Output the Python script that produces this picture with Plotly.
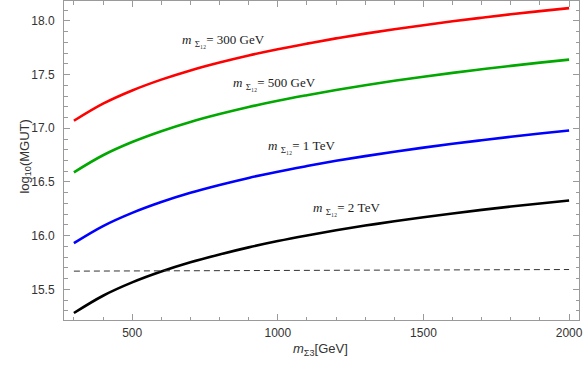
import plotly.graph_objects as go

# m_Sigma3 values (GeV)
m3 = [300, 400, 500, 600, 700, 800, 900, 1000, 1100, 1200, 1300, 1400,
      1500, 1600, 1700, 1800, 1900, 2000]

# log10(MGUT) for each m_Sigma12
gut_300gev = [17.070, 17.229, 17.352, 17.453, 17.539, 17.612, 17.678, 17.736, 17.788,
              17.837, 17.881, 17.922, 17.960, 17.996, 18.029, 18.061, 18.091, 18.119]
gut_500gev = [16.590, 16.749, 16.872, 16.973, 17.059, 17.132, 17.198, 17.256, 17.308,
              17.357, 17.401, 17.442, 17.480, 17.516, 17.549, 17.581, 17.611, 17.639]
gut_1tev = [15.930, 16.089, 16.212, 16.313, 16.399, 16.472, 16.538, 16.596, 16.648,
            16.697, 16.741, 16.782, 16.820, 16.856, 16.889, 16.921, 16.951, 16.979]
gut_2tev = [15.280, 15.441, 15.565, 15.666, 15.752, 15.825, 15.891, 15.950, 16.002,
            16.050, 16.094, 16.134, 16.172, 16.207, 16.240, 16.271, 16.300, 16.328]

# dashed reference line
ref_x = [300, 2000]
ref_y = [15.67, 15.685]

labels = ["300 GeV", "500 GeV", "1 TeV", "2 TeV"]
label_x = [815, 990, 1082, 1236]
label_y = [17.82, 17.42, 16.83, 16.25]

series = [gut_300gev, gut_500gev, gut_1tev, gut_2tev]
colors = ["#ff0000", "#00a800", "#0000ff", "#000000"]

fig = go.Figure()

for ys, c in zip(series, colors):
    fig.add_trace(go.Scatter(x=m3, y=ys, mode="lines",
                             line=dict(color=c, width=2.6, shape="spline",
                                       smoothing=1.0, simplify=False),
                             showlegend=False))

fig.add_trace(go.Scatter(x=ref_x, y=ref_y, mode="lines",
                         line=dict(color="#333333", width=1, dash="6px,4px"),
                         showlegend=False))

for t, lx, ly in zip(labels, label_x, label_y):
    fig.add_annotation(x=lx, y=ly, xref="x", yref="y", showarrow=False,
                       text="<i>m</i> <sub>Σ₁₂</sub>= " + t,
                       font=dict(family="Liberation Serif", size=13, color="#222"))

# axis titles placed by hand
fig.add_annotation(x=-0.095, y=0.511, xref="paper", yref="paper", showarrow=False,
                   textangle=-90, text="log<sub>10</sub>(MGUT)",
                   font=dict(family="Liberation Sans", size=13, color="#333"))
fig.add_annotation(x=0.499, y=-0.125, xref="paper", yref="paper", showarrow=False,
                   text="<i>m</i><sub>Σ3</sub>[GeV]",
                   font=dict(family="Liberation Sans", size=13, color="#333"))

axis_common = dict(showline=True, linecolor="#9a9a9a", linewidth=1, mirror="ticks",
                   ticks="inside", ticklen=6, tickcolor="#9a9a9a", showgrid=False,
                   zeroline=False, automargin=False,
                   tickfont=dict(family="Liberation Sans", size=12, color="#333"))

fig.update_xaxes(range=[266, 2034], tickvals=[500, 1000, 1500, 2000],
                 minor=dict(dtick=100, tick0=0, ticks="inside", ticklen=3.5,
                            tickcolor="#9a9a9a"),
                 ticklabelstandoff=2,
                 **axis_common)
fig.update_yaxes(range=[15.215, 18.185], tickvals=[15.5, 16.0, 16.5, 17.0, 17.5, 18.0],
                 ticktext=["15.5", "16.0", "16.5", "17.0", "17.5", "18.0"],
                 minor=dict(dtick=0.1, tick0=0, ticks="inside", ticklen=3.5,
                            tickcolor="#9a9a9a"),
                 ticklabelstandoff=6,
                 **axis_common)

fig.update_layout(width=588, height=370, plot_bgcolor="white", paper_bgcolor="white",
                  margin=dict(l=64, r=9, t=1, b=50))

# drop the page's default body margin so the figure sits at the window corner
fig.write_html("out.html", config={"displayModeBar": False},
               post_script="document.body.style.margin='0';document.body.style.overflow='hidden';")
